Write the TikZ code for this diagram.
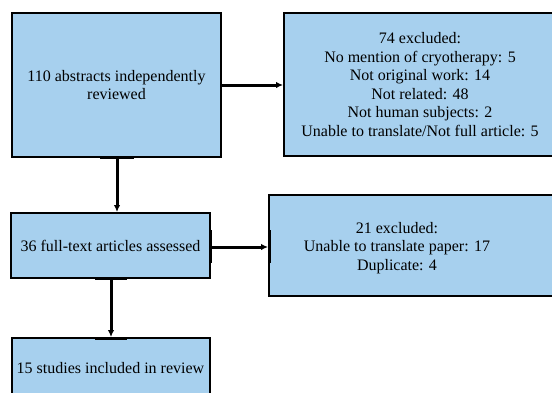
\documentclass[tikz,border=0pt]{standalone}
\usepackage{fontspec}
\setmainfont{Liberation Serif}
\usetikzlibrary{arrows.meta}
\definecolor{boxblue}{RGB}{167,208,238}
\tikzset{
  box/.style={draw=black, line width=2pt, fill=boxblue, inner sep=0pt, align=center, font=\fontsize{16}{18.6}\selectfont},
  lbl/.style={inner sep=0pt, align=center, font=\fontsize{16}{18.6}\selectfont},
  conn/.style={line width=3pt, -{Latex[length=7pt,width=6.5pt]}},
  thickseg/.style={line width=3pt}
}
\begin{document}
\begin{tikzpicture}[x=1pt,y=-1pt]
\useasboundingbox (0,0) rectangle (552,392);
\clip (0,0) rectangle (552,392);
\node[box, minimum width=209pt, minimum height=144pt] (b1) at (116.5,85) {110 abstracts independently\\reviewed};
\node[box, minimum width=272pt, minimum height=143pt] (b2) at (420,84.5) {74 excluded:\\No mention of cryotherapy: 5\\Not original work: 14\\Not related: 48\\Not human subjects: 2\\Unable to translate/Not full article: 5};
\node[box, minimum width=290pt, minimum height=101pt] (b4) at (414,245.5) {};
\node[lbl] (t4) at (397,248) {21 excluded:\\Unable to translate paper: 17\\Duplicate: 4};
\node[box, minimum width=199pt, minimum height=65pt] (b3) at (110.5,245.5) {36 full-text articles assessed};
\node[box, minimum width=198pt, minimum height=60pt] (b5) at (110.5,368) {15 studies included in review};
% thicker segments where connectors meet the boxes
\draw[thickseg] (100,157) -- (134,157);
\draw[thickseg] (95,278) -- (127,278);
\draw[thickseg] (95,338) -- (127,338);
\draw[thickseg] (210,230) -- (210,263);
\draw[thickseg] (269,230) -- (269,263);
% connectors
\draw[conn] (b1.east |- 0,85) -- (b2.west |- 0,85);
\draw[conn] (b1.south -| 117,0) -- (b3.north -| 117,0);
\draw[conn] (b3.east |- 0,247) -- (b4.west |- 0,247);
\draw[conn] (b3.south -| 111,0) -- (b5.north -| 111,0);
\end{tikzpicture}
\end{document}
